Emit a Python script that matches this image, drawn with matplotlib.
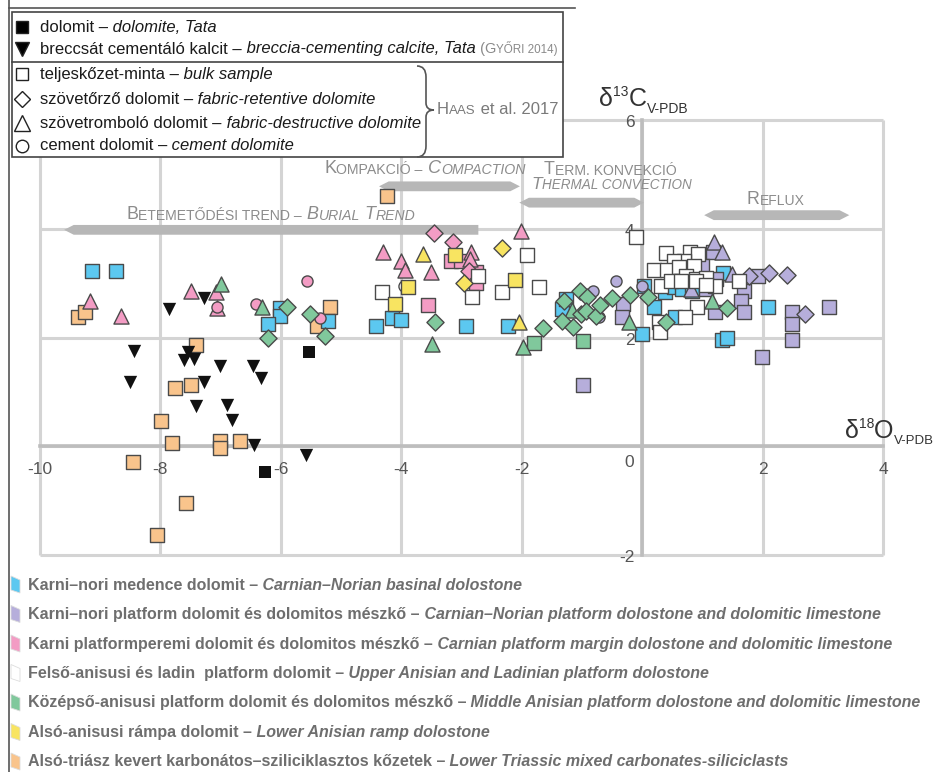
import matplotlib
matplotlib.use("Agg")
import matplotlib.pyplot as plt
from matplotlib.patches import Polygon, Rectangle, PathPatch
from matplotlib.path import Path
from matplotlib.lines import Line2D

plt.rcParams['font.family'] = ['Liberation Sans', 'DejaVu Sans']

# --- data: (d18O, d13C) pairs, per facies and sample type ---
basinal_sq = [(-9.14, 3.22), (-8.74, 3.22), (-6.01, 2.54), (-6.01, 2.39), (-6.21, 2.24),
              (-5.22, 2.30), (-4.42, 2.21), (-4.15, 2.35), (-4.00, 2.33), (-2.92, 2.22),
              (-2.23, 2.21), (-1.33, 2.52), (-1.26, 2.70), (0.03, 2.94), (0.00, 2.06),
              (0.20, 2.56), (0.38, 2.83), (0.53, 2.92), (0.66, 2.90), (0.83, 2.85),
              (1.35, 3.18), (0.55, 2.37), (1.33, 1.95), (1.41, 2.00), (2.09, 2.56)]

platform_sq = [(-0.32, 2.61), (-0.33, 2.37), (-0.98, 1.12), (1.18, 3.57), (1.00, 3.31),
               (1.06, 2.89), (1.23, 3.07), (1.69, 2.85), (1.64, 2.67), (1.69, 2.46),
               (1.21, 2.46), (1.93, 3.13), (1.99, 1.65), (2.49, 2.46), (2.49, 2.24),
               (2.49, 1.95), (3.11, 2.56)]
platform_tri = [(1.20, 3.75), (1.33, 3.58), (0.81, 2.89), (1.50, 3.16)]
platform_dia = [(1.78, 3.13), (2.11, 3.18), (2.41, 3.15), (2.71, 2.44)]
platform_circ = [(-0.81, 2.85), (-0.43, 3.03), (-0.71, 2.37), (0.00, 2.94)]

margin_tri = [(-9.17, 2.67), (-8.65, 2.39), (-7.49, 2.85), (-7.08, 2.83), (-7.06, 2.54),
              (-4.30, 3.58), (-4.00, 3.40), (-3.94, 3.25), (-3.50, 3.20), (-2.84, 3.58),
              (-2.86, 3.44), (-2.01, 3.95)]
margin_circ = [(-6.41, 2.61), (-5.56, 3.03), (-5.35, 2.35), (-7.06, 2.56)]
margin_dia = [(-3.46, 3.93), (-3.14, 3.75), (-2.87, 3.22)]
margin_sq = [(-3.55, 2.59), (-3.17, 3.40), (-3.01, 3.40), (-2.76, 3.20), (-2.76, 3.01)]

ladinian_sq = [(-4.32, 2.83), (-2.82, 2.74), (-2.72, 3.13), (-2.33, 2.83), (-1.91, 3.51),
               (-1.71, 2.92), (-0.10, 3.84), (0.40, 3.55), (0.80, 3.57), (0.93, 3.53),
               (0.70, 3.40), (0.53, 3.40), (0.20, 3.25), (0.42, 3.25), (0.61, 3.29),
               (0.86, 3.31), (0.73, 3.13), (0.90, 3.07), (1.06, 3.09), (0.32, 2.94),
               (0.48, 3.03), (0.65, 3.03), (1.61, 3.03), (1.21, 2.94), (0.91, 2.56),
               (0.71, 2.37), (0.28, 2.28), (0.30, 2.10), (0.90, 3.03), (1.06, 2.96)]
ladinian_circ = [(-3.95, 2.94)]

midanis_tri = [(-6.99, 2.98), (-6.31, 2.57), (-3.49, 1.88), (-1.98, 1.82), (-1.16, 2.50),
               (-0.22, 2.28), (1.16, 2.67)]
midanis_dia = [(-5.90, 2.57), (-6.21, 1.99), (-5.51, 2.43), (-5.27, 2.02), (-3.44, 2.28),
               (-1.64, 2.17), (-1.30, 2.67), (-1.03, 2.85), (-0.91, 2.74), (-1.33, 2.30),
               (-1.15, 2.19), (-1.01, 2.43), (-0.93, 2.48), (-0.76, 2.39), (-0.70, 2.59),
               (-0.50, 2.72), (-0.20, 2.79), (0.10, 2.74), (0.40, 2.28), (1.41, 2.54)]
midanis_sq = [(-1.79, 1.89), (-0.98, 1.93)]

ramp_sq = [(-3.89, 2.92), (-4.10, 2.61), (-3.11, 3.51), (-2.11, 3.05)]
ramp_tri = [(-3.64, 3.53), (-2.04, 2.28)]
ramp_dia = [(-2.96, 3.01), (-2.33, 3.64)]

lowtri_sq = [(-9.37, 2.37), (-9.25, 2.46), (-7.41, 1.86), (-7.76, 1.08), (-7.49, 1.12),
             (-7.99, 0.46), (-7.81, 0.06), (-7.01, 0.09), (-7.01, -0.04), (-6.68, 0.09),
             (-8.46, -0.29), (-7.57, -1.05), (-8.06, -1.64), (-5.40, 2.21), (-5.18, 2.57),
             (-4.24, 4.60)]

tata_dolomite = [(-5.53, 1.73), (-6.26, -0.48)]
tata_calcite = [(-7.86, 2.52), (-7.28, 2.72), (-8.44, 1.75), (-8.50, 1.19), (-7.61, 1.58),
                (-7.54, 1.73), (-7.44, 1.60), (-7.01, 1.47), (-6.46, 1.47), (-6.33, 1.25),
                (-7.28, 1.19), (-7.41, 0.74), (-6.89, 0.75), (-6.81, 0.48), (-6.45, 0.02),
                (-5.58, -0.17)]

x_ticks = [-10, -8, -6, -4, -2, 0, 2, 4]
y_ticks = [-2, 0, 2, 4, 6]

# trends: (label parts, bar start, bar end, bar level)
trends = [
    ([("Betemetődési trend –", False), (" Burial Trend", True)], -9.6, -2.72, 3.98),
    ([("Kompakció –", False), (" Compaction", True)], -4.37, -2.03, 4.78),
    ([("Term. konvekció", False)], -2.04, 0.03, 4.48),
    ([("Reflux", False)], 1.03, 3.44, 4.25),
]

BLUE, LAV, PINK = '#5cc8f0', '#b6aedb', '#f39cc4'
GREEN, YELLOW, ORANGE = '#80c89c', '#f8e461', '#f9c48c'

facies = [
    ("Karni–nori medence dolomit –", " Carnian–Norian basinal dolostone", BLUE),
    ("Karni–nori platform dolomit és dolomitos mészkő –",
     " Carnian–Norian platform dolostone and dolomitic limestone", LAV),
    ("Karni platformperemi dolomit és dolomitos mészkő –",
     " Carnian platform margin dolostone and dolomitic limestone", PINK),
    ("Felső-anisusi és ladin  platform dolomit –",
     " Upper Anisian and Ladinian platform dolostone", 'white'),
    ("Középső-anisusi platform dolomit és dolomitos mészkő –",
     " Middle Anisian platform dolostone and dolomitic limestone", GREEN),
    ("Alsó-anisusi rámpa dolomit –", " Lower Anisian ramp dolostone", YELLOW),
    ("Alsó-triász kevert karbonátos–sziliciklasztos kőzetek –",
     " Lower Triassic mixed carbonates-siliciclasts", ORANGE),
]

W, H = 936, 772
fig = plt.figure(figsize=(W / 100, H / 100), dpi=100)
ax = fig.add_axes([40 / W, 1 - 555 / H, 843 / W, 435 / H])
ax.set_xlim(-10, 4)
ax.set_ylim(-2, 6)
ax.axis('off')

# overlay in pixel units for the decorations
ov = fig.add_axes([0, 0, 1, 1], zorder=5)
ov.set_xlim(0, W)
ov.set_ylim(H, 0)
ov.axis('off')
ov.patch.set_alpha(0)


def caps_runs(text, ratio):
    runs, pending = [], ''
    for ch in text:
        if ch == ' ':
            pending += ' '
            continue
        if not ch.isalpha() and runs:
            runs[-1][0] += pending + ch
            pending = ''
            continue
        small = ch.islower()
        c = ch.upper() if small else ch
        if runs and runs[-1][1] == small:
            runs[-1][0] += pending + c
        else:
            runs.append([pending + c, small])
        pending = ''
    return [(t, ratio if s else 1.0) for t, s in runs]


def chain(axis, xy, pieces, color, va='bottom', weight='normal'):
    # pieces: (text, size, italic) or (text, size, italic, dy)
    prev = None
    for piece in pieces:
        txt, size, italic = piece[:3]
        dy = piece[3] if len(piece) > 3 else 0
        kw = dict(fontsize=size, color=color, fontstyle='italic' if italic else 'normal',
                  fontweight=weight, ha='left', annotation_clip=False, zorder=6)
        if prev is None:
            prev = axis.annotate(txt, xy=xy, xycoords='data', va=va, **kw)
        else:
            prev = axis.annotate(txt, xy=(1, 0), xycoords=prev, xytext=(0, dy),
                                 textcoords='offset points', va='bottom', **kw)
    return prev


def small_caps(parts, size, ratio=0.78):
    pieces = []
    for text, italic in parts:
        for t, r in caps_runs(text, ratio):
            pieces.append((t, size * r, italic))
    return pieces


# grid
for xv in x_ticks:
    ax.plot([xv, xv], [-2, 6], color='#d4d4d4', lw=2.2, zorder=1, clip_on=False,
            solid_capstyle='butt')
for yv in y_ticks:
    ax.plot([-10, 4], [yv, yv], color='#d4d4d4', lw=2.2, zorder=1, clip_on=False,
            solid_capstyle='butt')
ax.plot([0, 0], [-2, 6], color='#bdbdbd', lw=2.6, zorder=1.5, clip_on=False)
ax.plot([-10, 4], [0, 0], color='#bdbdbd', lw=2.6, zorder=1.5, clip_on=False)

# tick labels
for xv in x_ticks:
    if xv != 0:
        ax.text(xv, -0.42, str(xv), ha='center', va='center', fontsize=12.5,
                color='#555555', zorder=3)
for yv in y_ticks:
    ax.text(-0.13, yv - 0.05 if yv != 0 else -0.3, str(yv), ha='right', va='center',
            fontsize=12.5, color='#555555', zorder=3)

AXC = '#333333'
chain(ax, (-0.71, 6.38), [("δ", 18, False), ("13", 10, False, 9), ("C", 18, False, -9),
                           ("V-PDB", 10, False, -3)], AXC, va='center')
chain(ax, (3.37, 0.28), [("δ", 18, False), ("18", 10, False, 9), ("O", 18, False, -9),
                          ("V-PDB", 9.5, False, -3)], AXC, va='center')

# trend bars
BAR = '#b7b7b7'
hh, tip = 0.09, 0.16
for i, (parts, x0, x1, yl) in enumerate(trends):
    right_tip = 0 if i == 0 else tip
    verts = [(x0, yl), (x0 + tip, yl + hh), (x1 - right_tip, yl + hh), (x1, yl),
             (x1 - right_tip, yl - hh), (x0 + tip, yl - hh)]
    ax.add_patch(Polygon(verts, closed=True, color=BAR, zorder=2, lw=0))

LBL = '#8c8c8c'
chain(ax, (-8.57, 4.10), small_caps(trends[0][0], 12.9), LBL)
chain(ax, (-5.28, 4.96), small_caps(trends[1][0], 13.1), LBL)
chain(ax, (-1.63, 4.93), small_caps(trends[2][0], 12.9), LBL)
chain(ax, (-1.84, 4.67), small_caps([("Thermal convection", True)], 12.5), LBL)
chain(ax, (1.74, 4.39), small_caps(trends[3][0], 12.8), LBL)

# data points
EDGE = '#4a4a4a'
SIZES = {'s': 88, 'D': 76, '^': 118, 'o': 64, 'v': 92}
groups = [
    (lowtri_sq, ORANGE, 's'),
    (basinal_sq, BLUE, 's'),
    (platform_sq, LAV, 's'), (platform_tri, LAV, '^'), (platform_dia, LAV, 'D'),
    (platform_circ, LAV, 'o'),
    (margin_sq, PINK, 's'), (margin_tri, PINK, '^'), (margin_dia, PINK, 'D'),
    (margin_circ, PINK, 'o'),
    (ladinian_circ, 'white', 'o'), (ladinian_sq, 'white', 's'),
    (midanis_sq, GREEN, 's'), (midanis_tri, GREEN, '^'), (midanis_dia, GREEN, 'D'),
    (ramp_sq, YELLOW, 's'), (ramp_tri, YELLOW, '^'), (ramp_dia, YELLOW, 'D'),
]
for pts, col, mk in groups:
    xs = [p[0] for p in pts]
    ys = [p[1] for p in pts]
    ax.scatter(xs, ys, s=SIZES[mk], marker=mk, facecolor=col, edgecolor=EDGE,
               linewidths=1.0, zorder=4, clip_on=False)
ax.scatter([p[0] for p in tata_calcite], [p[1] for p in tata_calcite], s=SIZES['v'],
           marker='v', color='#111111', lw=0, zorder=4)
ax.scatter([p[0] for p in tata_dolomite], [p[1] for p in tata_dolomite], s=70,
           marker='s', color='#111111', lw=0, zorder=4)

# frame lines of the figure
ov.plot([9, 9], [0, H], color='#555555', lw=1.2)
ov.plot([9, 575], [8, 8], color='#555555', lw=1.2)

# upper legend box
ov.add_patch(Rectangle((12, 12), 551, 145, facecolor='white', edgecolor='#444444', lw=1.2,
                       zorder=5))
ov.plot([12, 563], [62, 62], color='#444444', lw=1.2, zorder=5.5)

legend_rows = [
    ('s', 'black', "dolomit –", " dolomite, Tata", 27),
    ('v', 'black', "breccsát cementáló kalcit –", " breccia-cementing calcite, Tata", 49),
    ('s', 'white', "teljeskőzet-minta –", " bulk sample", 74),
    ('D', 'white', "szövetőrző dolomit –", " fabric-retentive dolomite", 99),
    ('^', 'white', "szövetromboló dolomit –", " fabric-destructive dolomite", 123),
    ('o', 'white', "cement dolomit –", " cement dolomite", 146),
]
msz = {'s': 8.5, 'v': 10, 'D': 8, '^': 11, 'o': 9}
for mk, fc, hu, en, yy in legend_rows:
    ov.add_line(Line2D([22], [yy], marker=mk, markersize=msz[mk], markerfacecolor=fc,
                       markeredgecolor='#222222', markeredgewidth=1.0, ls='none', zorder=6))
    last = chain(ov, (40, yy), [(hu, 12, False), (en, 12, True)], '#1a1a1a', va='center')
    if yy == 49:
        pieces = small_caps([(" (Győri 2014)", False)], 10.5, 0.8)
        prev = last
        for t, s, it in pieces:
            prev = ov.annotate(t, xy=(1, 0), xycoords=prev, va='bottom', ha='left',
                               fontsize=s, color='#8a8a8a', annotation_clip=False, zorder=6)

# brace and Haas reference
bx = 426
brace = Path([(417, 66), (bx, 66), (bx, 77), (bx, 103), (bx, 110), (434, 110),
              (bx, 110), (bx, 117), (bx, 146), (bx, 157), (417, 157)],
             [Path.MOVETO, Path.CURVE3, Path.CURVE3, Path.LINETO, Path.CURVE3, Path.CURVE3,
              Path.CURVE3, Path.CURVE3, Path.LINETO, Path.CURVE3, Path.CURVE3])
ov.add_patch(PathPatch(brace, facecolor='none', edgecolor='#555555', lw=1.2, zorder=6))
haas = small_caps([("Haas", False)], 12, 0.8) + [(" et al. 2017", 12, False)]
chain(ov, (437, 110), haas, '#7a7a7a', va='center')

# lower legend
GREY = '#6e6e6e'
for i, (hu, en, col) in enumerate(facies):
    yy = 585 + 29.5 * i
    ov.add_patch(Polygon([(11, yy - 9), (20, yy - 5), (20, yy + 8), (11, yy + 5)],
                         closed=True, facecolor=col, edgecolor='#dddddd', lw=0.6, zorder=6))
    chain(ov, (28, yy), [(hu, 11.5, False), (en, 11.5, True)], GREY, va='center',
          weight='bold')

fig.savefig('out.png', dpi=100)
